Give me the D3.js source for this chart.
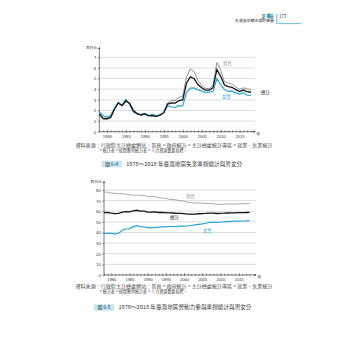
<!DOCTYPE html>
<html><head><meta charset="utf-8">
<script src="https://cdn.jsdelivr.net/npm/d3@7"></script>
<style>
html,body{margin:0;padding:0;background:#fff;}
svg{display:block;font-family:"Noto Sans CJK TC","Noto Sans",sans-serif;}
</style></head>
<body>
<svg id="c" width="348" height="348"></svg>
<script>
const years = d3.range(1978, 2019);
// Chart 6-4: unemployment rate (%)
const unempTotal = [1.67,1.27,1.23,1.36,2.14,2.71,2.45,2.91,2.66,1.97,1.69,1.57,1.67,1.51,1.51,1.45,1.56,1.79,2.60,2.72,2.69,2.92,2.99,4.57,5.17,4.99,4.44,4.13,3.91,3.91,4.14,5.85,5.21,4.39,4.24,4.18,3.96,3.78,3.92,3.76,3.71];
const unempMale = [1.50,1.15,1.14,1.28,2.12,2.68,2.43,2.82,2.71,2.05,1.72,1.54,1.64,1.53,1.43,1.42,1.55,1.81,2.70,2.94,2.93,3.23,3.36,5.16,5.91,5.63,4.82,4.35,4.07,4.05,4.40,6.51,5.79,4.71,4.59,4.47,4.21,3.98,4.13,4.03,3.95];
const unempFemale = [1.85,1.50,1.38,1.52,2.18,2.76,2.49,3.05,2.57,1.85,1.64,1.63,1.73,1.48,1.64,1.50,1.58,1.76,2.42,2.35,2.29,2.45,2.42,3.71,4.10,4.12,3.94,3.84,3.69,3.72,3.80,5.00,4.46,3.96,3.79,3.81,3.65,3.53,3.67,3.43,3.41];
const unempTicks = [0,1,2,3,4,5,6,7];
// Chart 6-5: labour force participation rate (%)
const lfprTotal = [58.74,58.85,58.26,57.82,57.93,59.26,59.72,59.49,60.37,60.93,60.21,60.12,59.24,59.11,59.34,58.82,58.96,58.71,58.44,58.33,58.04,57.93,57.68,57.23,57.34,57.34,57.66,57.78,57.92,58.25,58.28,57.90,58.07,58.17,58.35,58.43,58.54,58.65,58.75,58.83,58.99];
const lfprMale = [77.96,77.93,77.11,76.78,76.51,76.36,76.06,75.47,75.15,75.24,74.83,74.84,73.96,73.80,73.78,72.67,72.44,72.03,71.13,71.09,70.58,69.93,69.42,68.47,68.22,67.69,67.78,67.62,67.35,67.24,67.09,66.40,66.51,66.67,66.83,66.74,66.78,66.91,67.05,67.13,67.24];
const lfprFemale = [39.13,39.23,39.25,38.76,39.30,42.12,43.30,43.46,45.51,46.54,45.56,45.35,44.50,44.39,44.83,44.89,45.40,45.34,45.76,45.64,45.60,46.03,46.02,46.10,46.59,47.14,47.71,48.12,48.68,49.44,49.67,49.62,49.89,49.97,50.19,50.46,50.64,50.74,50.80,50.92,51.14];
const lfprTicks = [0,10,20,30,40,50,60,70,80];
const yearLabels = [1980,1985,1990,1995,2000,2005,2010,2015];
const seriesNames = ["男性","總計","女性"];
const yUnit = "百分比";
const xUnit = "年";
const sourceLine1 = "資料來源：行政院主計總處網站：首頁 > 政府統計 > 主計總處統計專區 > 就業、失業統計";
const sourceLine2 = "> 統計表 > 按間數列統計表 > 人力資源重要指標。";
const captions = [["圖 6-4","1978～2018 年臺灣地區失業率按總計與男女分"],["圖 6-5","1978～2018 年臺灣地區勞動力參與率按總計與男女分"]];
const header = {chapter:"第 6 章", title:"失業與勞動市場的衡量", page:"177"};

const svg = d3.select("#c");
const BLUE = "#27a6d6";
const GRAY = "#959595";

// header
svg.append("text").attr("x",274).attr("y",17.5).attr("text-anchor","end").attr("font-size",4.2).attr("fill","#333").text(header.chapter);
svg.append("rect").attr("x",267.3).attr("y",13.6).attr("width",3.4).attr("height",4.6).attr("fill",BLUE);
svg.append("text").attr("x",274).attr("y",22.3).attr("text-anchor","end").attr("font-size",3.9).attr("fill","#333").text(header.title);
svg.append("text").attr("x",279).attr("y",17.6).attr("font-size",4.6).attr("fill","#333").text(header.page);
svg.append("path").attr("d","M276.8,13.5V23.6H301").attr("fill","none").attr("stroke",BLUE).attr("stroke-width",0.7);

function chart(cfg){
  const g = svg.append("g");
  const x = d3.scaleLinear().domain([1978,2018]).range([cfg.x0,cfg.x1]);
  const y = d3.scaleLinear().domain([0,cfg.ymax]).range([cfg.yb,cfg.yt]);
  // grid
  g.selectAll(".grid").data(cfg.ticks.filter(d=>d>0)).join("line")
    .attr("x1",cfg.x0).attr("x2",cfg.gridEnd).attr("y1",d=>y(d)).attr("y2",d=>y(d))
    .attr("stroke","#c8c8c8").attr("stroke-width",0.6);
  // y axis
  const ya = g.append("g").attr("transform",`translate(${cfg.x0},0)`)
    .call(d3.axisLeft(y).tickValues(cfg.ticks).tickFormat(d3.format("d")).tickSize(1.6).tickPadding(1.6));
  ya.select(".domain").remove();
  ya.selectAll("line").attr("stroke","#222").attr("stroke-width",0.5);
  ya.selectAll("text").attr("font-size",4.3).attr("fill","#333").attr("font-family","Liberation Sans, Arial, sans-serif");
  g.append("line").attr("x1",cfg.x0).attr("x2",cfg.x0).attr("y1",cfg.yb).attr("y2",cfg.axTop).attr("stroke","#222").attr("stroke-width",0.6);
  g.append("path").attr("d",`M${cfg.x0-0.9},${cfg.axTop+1.6}L${cfg.x0},${cfg.axTop-0.6}L${cfg.x0+0.9},${cfg.axTop+1.6}Z`).attr("fill","#222");
  g.append("text").attr("x",cfg.x0-2).attr("y",cfg.axTop+1.5).attr("text-anchor","end").attr("font-size",3.9).attr("fill","#333").text(yUnit);
  // x axis
  const xa = g.append("g").attr("transform",`translate(0,${cfg.yb})`)
    .call(d3.axisBottom(x).tickValues(years).tickSize(1.2).tickPadding(2.1)
      .tickFormat(d=>yearLabels.includes(d)?String(d):""));
  xa.select(".domain").remove();
  xa.selectAll(".tick line").attr("y1",d=>d%5===0?-2:-1.2).attr("y2",d=>d%5===0?1.2:0.6).attr("stroke","#222").attr("stroke-width",0.5);
  xa.selectAll("text").attr("font-size",4.1).attr("fill","#333").attr("font-family","Liberation Sans, Arial, sans-serif");
  g.append("line").attr("x1",cfg.x0).attr("x2",cfg.xEnd).attr("y1",cfg.yb).attr("y2",cfg.yb).attr("stroke","#222").attr("stroke-width",0.6);
  g.append("path").attr("d",`M${cfg.xEnd-1.6},${cfg.yb-0.9}L${cfg.xEnd+0.6},${cfg.yb}L${cfg.xEnd-1.6},${cfg.yb+0.9}Z`).attr("fill","#222");
  g.append("text").attr("x",cfg.xEnd+1.2).attr("y",cfg.yb+4.3).attr("font-size",4.1).attr("fill","#333").text(xUnit);
  // lines
  const line = d3.line().x((d,i)=>x(years[i])).y(d=>y(d));
  g.append("path").attr("d",line(cfg.male)).attr("fill","none").attr("stroke",GRAY).attr("stroke-width",cfg.maleW);
  g.append("path").attr("d",line(cfg.female)).attr("fill","none").attr("stroke",BLUE).attr("stroke-width",1.2);
  g.append("path").attr("d",line(cfg.total)).attr("fill","none").attr("stroke","#151515").attr("stroke-width",1.3);
  // labels
  const lab = cfg.labels;
  g.append("text").attr("x",lab[0][0]).attr("y",lab[0][1]).attr("font-size",4.4).attr("fill",GRAY).text(seriesNames[0]);
  g.append("text").attr("x",lab[1][0]).attr("y",lab[1][1]).attr("font-size",4.4).attr("fill","#222").text(seriesNames[1]);
  g.append("text").attr("x",lab[2][0]).attr("y",lab[2][1]).attr("font-size",4.4).attr("fill",BLUE).text(seriesNames[2]);
  // source
  g.append("text").attr("x",75.5).attr("y",cfg.srcY).attr("font-size",4.5).attr("fill","#444")
    .attr("textLength",197).attr("lengthAdjust","spacingAndGlyphs").text(sourceLine1);
  g.append("text").attr("x",99.5).attr("y",cfg.srcY+5.8).attr("font-size",4.5).attr("fill","#444")
    .attr("textLength",88).attr("lengthAdjust","spacingAndGlyphs").text(sourceLine2);
  // caption
  const cap = captions[cfg.ci];
  g.append("rect").attr("x",cfg.capX).attr("y",cfg.capY-4.8).attr("width",20).attr("height",6.6).attr("fill","#c6e6f4");
  g.append("text").attr("x",cfg.capX+10).attr("y",cfg.capY).attr("text-anchor","middle").attr("font-size",4.8).attr("fill","#333").text(cap[0]);
  g.append("text").attr("x",cfg.capX+24.5).attr("y",cfg.capY).attr("font-size",5.3).attr("fill","#333")
    .attr("textLength",cfg.capW).attr("lengthAdjust","spacingAndGlyphs").text(cap[1]);
}

chart({x0:99.3,x1:251,yb:131.7,yt:57.3,ymax:7,ticks:unempTicks,gridEnd:255,xEnd:255,axTop:47.5,
  total:unempTotal,male:unempMale,female:unempFemale,maleW:1.0,
  labels:[[223,65],[261,93.5],[222,97.5]],srcY:146.5,ci:0,capX:101.7,capY:165.5,capW:116});
chart({x0:104,x1:249.6,yb:275,yt:190,ymax:80,ticks:lfprTicks,gridEnd:256,xEnd:256,axTop:181.5,
  total:lfprTotal,male:lfprMale,female:lfprFemale,maleW:0.8,
  labels:[[186,198],[170,219],[203,231.5]],srcY:287.5,ci:1,capX:94,capY:309,capW:133});
</script>
</body></html>
